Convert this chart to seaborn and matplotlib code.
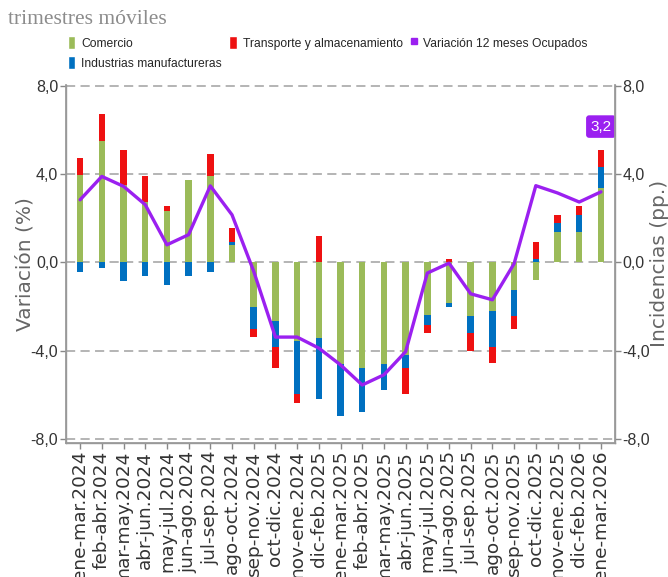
#!/usr/bin/env python3
"""Ocupados: incidencias por rama y variación 12 meses, trimestres móviles."""

import matplotlib

matplotlib.use("Agg")
import matplotlib.pyplot as plt
import numpy as np
import seaborn as sns
from matplotlib.lines import Line2D
from matplotlib.patches import Patch

periods = [
    "ene-mar.2024", "feb-abr.2024", "mar-may.2024", "abr-jun.2024", "may-jul.2024",
    "jun-ago.2024", "jul-sep.2024", "ago-oct.2024", "sep-nov.2024", "oct-dic.2024",
    "nov-ene.2024", "dic-feb.2025", "ene-mar.2025", "feb-abr.2025", "mar-may.2025",
    "abr-jun.2025", "may-jul.2025", "jun-ago.2025", "jul-sep.2025", "ago-oct.2025",
    "sep-nov.2025", "oct-dic.2025", "nov-ene.2025", "dic-feb.2026", "ene-mar.2026",
]
comercio = [3.95, 5.52, 3.52, 2.74, 2.34, 3.72, 3.93, 0.77, -2.03, -2.63,
            -3.58, -3.40, -4.59, -4.79, -4.59, -4.20, -2.40, -1.84, -2.42, -2.22,
            -1.24, -0.81, 1.36, 1.36, 3.36]
industrias = [-0.44, -0.23, -0.83, -0.63, -1.01, -0.63, -0.44, 0.18, -0.98, -1.18,
              -2.37, -2.78, -2.36, -1.97, -1.18, -0.59, -0.43, -0.16, -0.78, -1.59,
              -1.18, 0.17, 0.41, 0.80, 0.97]
transporte = [0.79, 1.19, 1.59, 1.19, 0.20, 0.0, 0.99, 0.61, -0.38, -0.98,
              -0.43, 1.18, 0.0, 0.0, 0.0, -1.16, -0.37, 0.15, -0.79, -0.75,
              -0.59, 0.78, 0.39, 0.38, 0.78]
variacion = [2.84, 3.90, 3.45, 2.62, 0.80, 1.26, 3.47, 2.16, -0.40, -3.38,
             -3.38, -3.88, -4.64, -5.55, -5.09, -4.04, -0.48, -0.03, -1.42, -1.69,
             -0.05, 3.48, 3.15, 2.74, 3.20]

series_names = ["Comercio", "Industrias manufactureras", "Transporte y almacenamiento"]
line_name = "Variación 12 meses Ocupados"
y_ticks = [-8, -4, 0, 4, 8]
y_tick_labels = ["-8,0", "-4,0", "0,0", "4,0", "8,0"]
last_label = "3,2"

GREEN = "#9BBB59"
BLUE = "#0070C0"
RED = "#EE1111"
PURPLE = "#9B20F0"
colors = [GREEN, BLUE, RED]
SANS = ["Liberation Sans", "DejaVu Sans"]

sns.set_theme(style="white")
plt.rcParams["font.family"] = ["DejaVu Sans"]

fig = plt.figure(figsize=(6.68, 5.77), dpi=100)
ax = fig.add_axes([0.0988, 0.2322, 0.9207 - 0.0988, 0.853 - 0.2322])

# stacked bars: positives and negatives pile up separately
vals = np.array([comercio, industrias, transporte])
pos = np.clip(vals, 0, None).cumsum(axis=0)
neg = np.clip(vals, None, 0).cumsum(axis=0)
for i in reversed(range(3)):
    for level in (pos[i], neg[i]):
        sns.barplot(x=periods, y=level, order=periods, color=colors[i], saturation=1,
                    width=0.3, errorbar=None, linewidth=0, ax=ax)

sns.lineplot(x=periods, y=variacion, sort=False, color=PURPLE, linewidth=2.4, ax=ax)

ylim = (-8.18, 8.05)
ax.set_ylim(*ylim)
ax.set_xlim(-0.65, len(periods) - 0.35)
ax.set_yticks(y_ticks)
ax.set_yticklabels(y_tick_labels, family=SANS, fontsize=11.5, color="#333333")
ax.set_xticks(range(len(periods)))
ax.set_xticklabels(periods, rotation=90, fontsize=13.3, color="#333333")
ax.set_xlabel("")
ax.set_ylabel("Variación (%)", fontsize=14.5, color="#666666")
ax.yaxis.set_label_coords(-0.058, 0.5)
ax.yaxis.grid(True, color="#A0A0A0", linestyle=(0, (6, 3.5)), linewidth=1.1)
ax.xaxis.grid(False)
ax.set_axisbelow(True)
ax.tick_params(axis="both", length=4, width=1, color="#888888", bottom=True, left=True, pad=1.5)
for side in ("left", "bottom", "right"):
    ax.spines[side].set_color("#999999")
    ax.spines[side].set_linewidth(1)
ax.spines["top"].set_visible(False)

ax2 = ax.twinx()
ax2.set_ylim(*ylim)
ax2.set_yticks(y_ticks)
ax2.set_yticklabels(y_tick_labels, family=SANS, fontsize=11.5, color="#333333")
ax2.set_ylabel("Incidencias (pp.)", fontsize=14.5, color="#666666")
ax2.yaxis.set_label_coords(1.064, 0.5)
ax2.tick_params(axis="y", length=4, width=1, color="#888888", right=True, pad=1.5)
ax2.grid(False)
for side in ("left", "bottom", "right"):
    ax2.spines[side].set_color("#999999")
ax2.spines["top"].set_visible(False)

ax.annotate(last_label, xy=(len(periods) - 1, variacion[-1]), xytext=(0, 47),
            textcoords="offset points", ha="center", va="center", color="white",
            family=SANS, fontsize=11,
            bbox=dict(boxstyle="round,pad=0.28,rounding_size=0.2", fc=PURPLE, ec="none"),
            zorder=5)

handles = [Patch(facecolor=GREEN), Patch(facecolor=BLUE), Patch(facecolor=RED),
           Line2D([], [], marker="s", markersize=4, linestyle="none", color=PURPLE)]
labels = [series_names[0], series_names[1], series_names[2], line_name]
fig.legend(handles, labels, loc="upper left", bbox_to_anchor=(0.102, 0.937), ncol=3,
           frameon=False, prop={"family": SANS, "size": 8.7}, borderpad=0, borderaxespad=0,
           handlelength=0.6, handleheight=1.2, handletextpad=0.5, columnspacing=0.6,
           labelspacing=0.55)

fig.text(0.012, 1 - 10 / 577, "trimestres móviles", va="top", ha="left",
         family=["Liberation Serif", "DejaVu Serif"], fontsize=15.5, color="#8C8C8C")

fig.savefig("out.png", dpi=100)
plt.close(fig)
